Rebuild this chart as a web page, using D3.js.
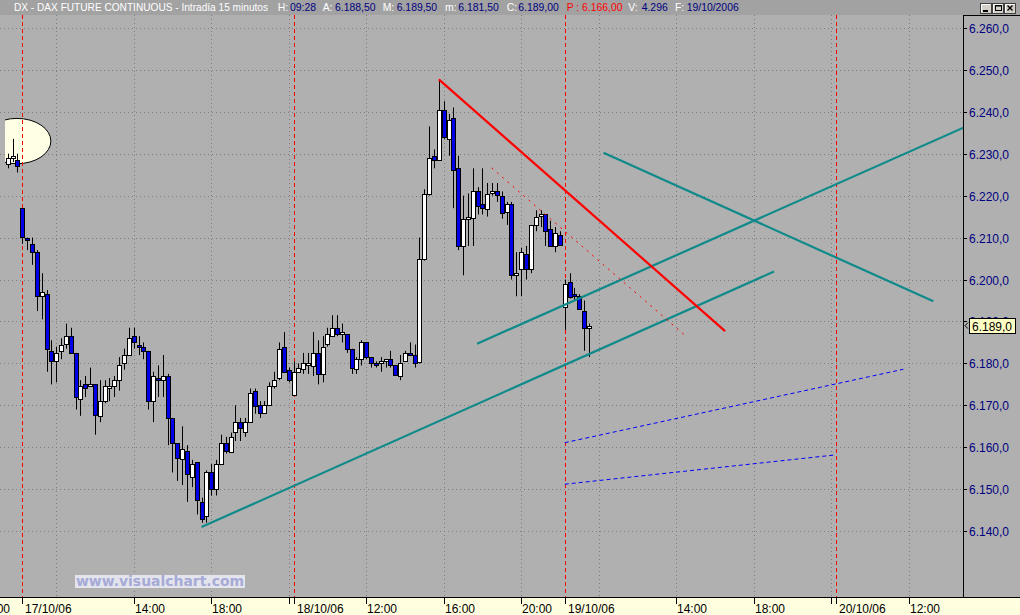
<!DOCTYPE html>
<html><head><meta charset="utf-8">
<script src="https://cdn.jsdelivr.net/npm/d3@7"></script>
<style>
body{margin:0;background:#b0b0b0;overflow:hidden}
text{font-family:"Liberation Sans",Arial,sans-serif}
</style>
</head><body>
<svg id="c" width="1020" height="615"></svg>
<script>
// ---------------- DATA ----------------
const firstBar = -3; // bar index of first candle (bar 0 = first bar of 17/10/06)
const open  = [6227.5,6229,6228.5, 6217,6210,6208.5,6206.5,6196,6196.5,6183,6180.5,6183,6184.5,6186.5,6182.5,6171.5,6175,6174.5,6175,6167.5,6171,6174,6174.5,6176,6180,6182,6186.5,6184.5,6184,6183,6171,6176.5,6176,6177,6167,6161,6157,6159,6153,6156.5,6147,6143.5,6154,6150,6156,6161,6159,6163.5,6166,6163.5,6166,6173.5,6170,6168,6170,6174.5,6176.5,6184,6178.5,
  6172.5,6178,6178.5,6179.5,6179.5,6182.5,6177.5,6184.5,6186.5,6188.5,6187,6187,6183.5,6178.5,6181,6185,6181.5,6180,6180,6180.5,6181,6179.5,6177,6180.5,6182.5,6182,6180.5,6205,6220.5,6229.5,6228.5,6240.5,6233.5,6238.5,6226.5,6208,6214.5,6214.5,6221,6218,6217,6220.5,6221,6220,6216,6218,6201,6202.5,6206,6202.5,6213,6215,6215.5,6212,6208,6210.5,
  6193.5,6199.5,6196.5,6196,6192.5,6188.5];
const high  = [6230,6233.5,6230, 6217,6210,6210,6207,6201.5,6197.5,6185.5,6184,6186,6189.5,6188.5,6182.5,6176,6177,6179,6175,6176,6176,6176.5,6177,6181.5,6183.5,6188.5,6188.5,6186.5,6185,6183,6178,6179.5,6182,6177.5,6167,6161,6165,6160.5,6157,6156.5,6148,6154.5,6156,6157,6163,6162.5,6163.5,6170,6167,6167,6174,6174,6171,6171,6175.5,6178,6185,6187.5,6179,
  6180.5,6180,6182.5,6182.5,6187.5,6185.5,6186.5,6188.5,6191.5,6191.5,6189.5,6187,6183.5,6181.5,6185.5,6185,6181.5,6180.5,6181.5,6181,6183,6179.5,6182,6183,6185,6184.5,6210,6221.5,6236.5,6231,6247.5,6242.5,6239.5,6241,6229.5,6220,6220.5,6226.5,6222,6226.5,6223,6223,6223,6221,6218.5,6218.5,6206.5,6207.5,6208,6213,6216.5,6216.5,6215.5,6214,6212.5,6211.5,
  6200,6201.5,6198,6196.5,6195,6189.5];
const low   = [6226.5,6228,6225.5, 6208.5,6207,6203.5,6192.5,6190.5,6178,6175,6175.5,6181,6183.5,6182.5,6169,6167.5,6172,6174.5,6163,6166,6170.5,6171,6172,6173.5,6178.5,6182,6183.5,6182,6181,6169,6166,6172,6172,6160.5,6154,6152,6151,6147,6150.5,6144,6142,6142,6148.5,6148.5,6156,6158.5,6159,6161.5,6161.5,6162.5,6166,6168,6167,6168,6170,6174,6176,6178,6175.5,
  6172.5,6178,6177.5,6177.5,6177,6175,6175.5,6184,6186.5,6186.5,6185,6182.5,6177.5,6177.5,6179.5,6181,6179,6179,6178,6179,6179,6177,6176,6180.5,6182,6179,6180,6204.5,6220,6226.5,6228.5,6233.5,6229.5,6217,6207,6201,6208,6208,6215.5,6215.5,6215,6220,6218.5,6214.5,6213,6200,6196,6196,6200,6201.5,6211.5,6212.5,6208,6208,6206.5,6208,
  6188,6195.5,6195,6193,6183,6181.5];
const close = [6229,6229.5,6227, 6210,6209.5,6206.5,6196,6197,6183.5,6180.5,6182.5,6184.5,6186.5,6182.5,6172,6174.5,6174,6175,6167.5,6171,6174.5,6174.5,6176,6179.5,6182,6186,6185,6184,6183,6171,6177,6176,6177,6167,6161,6157.5,6159.5,6153.5,6156,6147.5,6143,6154,6150,6156,6161,6159,6162.5,6166,6164.5,6166,6173,6170,6168,6170,6174.5,6176,6183.5,6178,6176,
  6178,6179,6180,6180,6182.5,6177.5,6184,6187,6188.5,6187,6187.5,6183.5,6179,6181,6185,6181.5,6180,6179.5,6180.5,6181,6179.5,6177,6180,6182.5,6182,6180,6205,6220.5,6229,6228.5,6240.5,6234,6238,6226,6208,6214.5,6215,6221,6217.5,6217,6220.5,6221,6220,6216,6218,6201,6201.5,6206.5,6202.5,6213,6215,6215.5,6211.5,6208,6211,6208,
  6199,6196,6196,6193,6188.5,6189];

const priceTicks  = [6140,6150,6160,6170,6180,6190,6200,6210,6220,6230,6240,6250,6260];
const priceLabels = ["6.140,0","6.150,0","6.160,0","6.170,0","6.180,0","6.190,0","6.200,0","6.210,0","6.220,0","6.230,0","6.240,0","6.250,0","6.260,0"];

const gridBars    = [-9,7,23,39,55,71,87,103,119,135,151,167,183];
const dayBars     = [0,56,112,168];
const xLabelBars  = [-9,0,23,39,56,71,87,103,112,135,151,168,183];
const xLabelTexts = ["20:00","17/10/06","14:00","18:00","18/10/06","12:00","16:00","20:00","19/10/06","14:00","18:00","20/10/06","12:00"];
const xLabelIsDate= [false,true,false,false,true,false,false,false,true,false,false,true,false];
const extraTickBars = [55,167];

// drawn objects: [[bar, price],[bar, price]]
const tealLines  = [[[37,6141],[155.2,6201.9]], [[93.9,6184.7],[200,6239.1]], [[120,6230.2],[188.1,6194.8]]];
const redLine    = [[86,6247.7],[145.1,6187.7]];
const redDashed  = [[96.9,6226.6],[137.1,6186.4]];
const blueDotted = [[[112,6161.1],[181.9,6178.6]], [[112,6151.2],[168,6158.2]]];
const ellipseMark = {bar:-1.1, price:6233, barRadius:7, priceRadius:5.4};

const titleParts = [
  ["DX - DAX FUTURE CONTINUOUS - Intradía 15 minutos","w"],["H:","w"],["09:28","n"],["A:","w"],["6.188,50","n"],
  ["M:","w"],["6.189,50","n"],["m:","w"],["6.181,50","n"],["C:","w"],["6.189,00","n"],["P : 6.166,00","r"],
  ["V:","w"],["4.296","n"],["F:","w"],["19/10/2006","n"]];
const lastPriceLabel = "6.189,0";

// ---------------- LAYOUT ----------------
const W=1020,H=615, plotR=963, plotT=15, plotB=597;
const x = d3.scaleLinear().domain([0,168]).range([22.3,836]);
const y = d3.scaleLinear().domain([6140,6260]).range([531.2,27.8]);
const svg = d3.select("#c");

const defs = svg.append("defs");
defs.append("clipPath").attr("id","plot").append("rect").attr("x",0).attr("y",plotT).attr("width",plotR).attr("height",plotB-plotT);
defs.append("clipPath").attr("id","ell").append("rect").attr("x",5).attr("y",plotT).attr("width",plotR-5).attr("height",plotB-plotT);

svg.append("rect").attr("width",W).attr("height",H).attr("fill","#b0b0b0");

const g = svg.append("g").attr("clip-path","url(#plot)");

// grid
g.selectAll(".hg").data(priceTicks).join("line")
  .attr("x1",0).attr("x2",plotR).attr("y1",d=>Math.round(y(d))+0.5).attr("y2",d=>Math.round(y(d))+0.5)
  .attr("stroke","#7c7c7c").attr("stroke-dasharray","1,3");
g.selectAll(".vg").data(gridBars).join("line")
  .attr("x1",d=>Math.round(x(d))+0.5).attr("x2",d=>Math.round(x(d))+0.5).attr("y1",plotT).attr("y2",plotB)
  .attr("stroke","#7c7c7c").attr("stroke-dasharray","1,3");

// ellipse mark
g.append("g").attr("clip-path","url(#ell)").append("ellipse")
  .attr("cx",x(ellipseMark.bar)).attr("cy",y(ellipseMark.price))
  .attr("rx",x(ellipseMark.barRadius)-x(0)).attr("ry",y(ellipseMark.price-ellipseMark.priceRadius)-y(ellipseMark.price))
  .attr("fill","#ffffe6").attr("stroke","#000").attr("stroke-width",1);

// day separators
g.selectAll(".dv").data(dayBars).join("line")
  .attr("x1",d=>Math.round(x(d))+0.5).attr("x2",d=>Math.round(x(d))+0.5).attr("y1",plotT).attr("y2",plotB)
  .attr("stroke","#ff0000").attr("stroke-dasharray","4,3");

// candles
const bars = open.map((o,k)=>({i:firstBar+k,o,h:high[k],l:low[k],c:close[k]}));
const cg = g.append("g");
cg.selectAll(".wick").data(bars).join("line")
  .attr("x1",d=>Math.round(x(d.i))+0.5).attr("x2",d=>Math.round(x(d.i))+0.5)
  .attr("y1",d=>y(d.h)).attr("y2",d=>y(d.l)).attr("stroke","#000").attr("stroke-width",1);
cg.selectAll(".body").data(bars).join("rect")
  .attr("x",d=>Math.round(x(d.i))-1.5).attr("width",4)
  .attr("y",d=>Math.round(y(Math.max(d.o,d.c)))+0.5)
  .attr("height",d=>Math.max(1,Math.round(Math.abs(y(d.o)-y(d.c)))))
  .attr("fill",d=>d.c>=d.o?"#ffffff":"#0000e8").attr("stroke","#000").attr("stroke-width",1);

// drawing objects
const seg = s => `M${x(s[0][0])},${y(s[0][1])}L${x(s[1][0])},${y(s[1][1])}`;
g.selectAll(".teal").data(tealLines).join("path").attr("d",seg)
  .attr("stroke","#0f8a8a").attr("stroke-width",2.2).attr("fill","none");
g.append("path").attr("d",seg(redLine)).attr("stroke","#ff0000").attr("stroke-width",2.2).attr("fill","none");
g.append("path").attr("d",seg(redDashed)).attr("stroke","#ff0000").attr("stroke-width",1).attr("stroke-dasharray","2,5").attr("fill","none");
g.selectAll(".bd").data(blueDotted).join("path").attr("d",seg)
  .attr("stroke","#0000ff").attr("stroke-width",1).attr("stroke-dasharray","4,3").attr("fill","none");

// watermark
svg.append("rect").attr("x",75).attr("y",575).attr("width",170).attr("height",13).attr("fill","#e4e4ec");
svg.append("text").attr("x",76).attr("y",586).attr("textLength",168).attr("lengthAdjust","spacingAndGlyphs")
  .style("font-family","'DejaVu Sans',Verdana,sans-serif").style("font-weight","bold").style("font-size","14px")
  .attr("fill","#a6aad6").text("www.visualchart.com");

// right axis
svg.append("rect").attr("x",plotR).attr("y",plotT).attr("width",W-plotR).attr("height",plotB-plotT).attr("fill","#b0b0b0");
svg.append("line").attr("x1",plotR+0.5).attr("x2",plotR+0.5).attr("y1",plotT).attr("y2",plotB).attr("stroke","#000");
svg.append("line").attr("x1",plotR).attr("x2",W).attr("y1",plotT+0.5).attr("y2",plotT+0.5).attr("stroke","#000");
const ya = svg.append("g");
priceTicks.forEach((p,k)=>{
  const yy = Math.round(y(p))+0.5;
  ya.append("line").attr("x1",plotR).attr("x2",plotR+4).attr("y1",yy).attr("y2",yy).attr("stroke","#000");
  ya.append("text").attr("x",plotR+6).attr("y",yy+4.5).attr("fill","#000080").style("font-size","12px").text(priceLabels[k]);
});
// last price tag
const lp = close[close.length-1];
const ly = y(lp);
svg.append("path").attr("d",`M${plotR+5},${ly-3}L${plotR+2},${ly}L${plotR+5},${ly+3}`).attr("stroke","#000").attr("fill","none");
svg.append("rect").attr("x",969.5).attr("y",Math.round(ly)-7.5).attr("width",46).attr("height",15).attr("fill","#ffffc4").attr("stroke","#000");
svg.append("text").attr("x",972).attr("y",Math.round(ly)+4.5).attr("fill","#000").style("font-size","12px").text(lastPriceLabel);

// bottom axis
svg.append("rect").attr("x",0).attr("y",plotB).attr("width",W).attr("height",H-plotB).attr("fill","#ffffe0");
svg.append("line").attr("x1",0).attr("x2",W).attr("y1",plotB+0.5).attr("y2",plotB+0.5).attr("stroke","#000");
const xa = svg.append("g");
xLabelBars.concat(extraTickBars).forEach(b=>{
  const xx = Math.round(x(b))+0.5;
  xa.append("line").attr("x1",xx).attr("x2",xx).attr("y1",plotB).attr("y2",plotB+7).attr("stroke","#000");
});
xLabelBars.forEach((b,k)=>{
  xa.append("text").attr("x",Math.round(x(b))+(xLabelIsDate[k]?3:1)).attr("y",613).attr("fill","#000")
    .style("font-size","12px").text(xLabelTexts[k]);
});

// title bar
svg.append("rect").attr("x",0).attr("y",0).attr("width",W).attr("height",plotT).attr("fill","#a2a2a2");
const titleX = [14,277.7,290,322.7,335,382.7,396.7,445,458.3,506.7,518.3,566.7,628.3,641.7,675,686.7];
const colors = {w:"#ffffff",n:"#000080",r:"#ff0000"};
titleParts.forEach((t,k)=>{
  const tx = svg.append("text").attr("x",titleX[k]).attr("y",11).attr("fill",colors[t[1]]).style("font-size","10.4px").text(t[0]);
  if(k===0) tx.attr("textLength",254).attr("lengthAdjust","spacingAndGlyphs");
});
// window buttons
const btn = svg.append("g");
[980,992,1004].forEach((bx,k)=>{
  btn.append("rect").attr("x",bx+0.5).attr("y",3.5).attr("width",11).attr("height",10).attr("fill","#d4d0c8").attr("stroke","#404040");
  btn.append("path").attr("d",`M${bx+1.5},12.5V4.5H${bx+10.5}`).attr("stroke","#fff").attr("fill","none");
  if(k===0) btn.append("rect").attr("x",bx+3).attr("y",10).attr("width",5).attr("height",2).attr("fill","#000");
  if(k===1){ btn.append("rect").attr("x",bx+3.5).attr("y",5.5).attr("width",6).attr("height",5).attr("fill","none").attr("stroke","#000");
             btn.append("line").attr("x1",bx+3).attr("x2",bx+10).attr("y1",6).attr("y2",6).attr("stroke","#000"); }
  if(k===2) btn.append("path").attr("d",`M${bx+3.5},5.5L${bx+8.5},10.5M${bx+8.5},5.5L${bx+3.5},10.5`).attr("stroke","#000").attr("stroke-width",1.4);
});
</script>
</body></html>
